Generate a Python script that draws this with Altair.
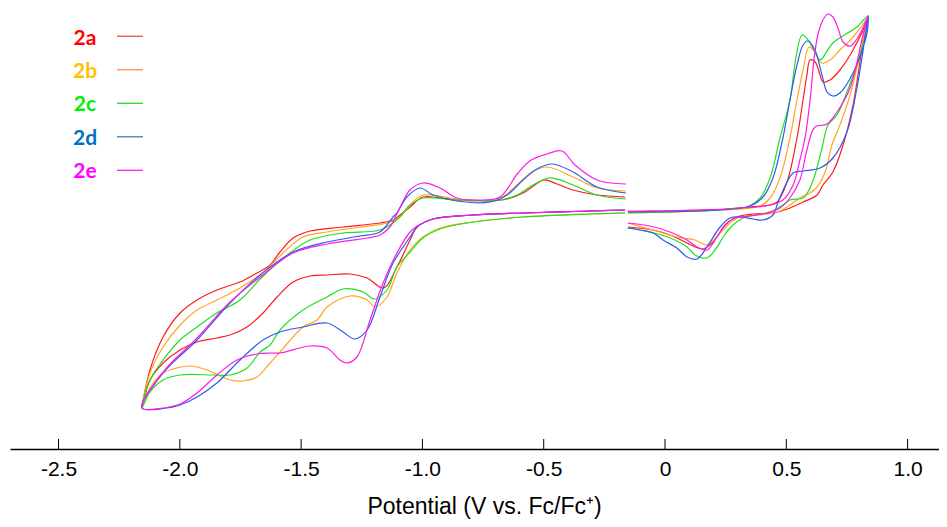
import altair as alt
import pandas as pd

# ---------------- data (potential in V vs Fc/Fc+, current in arbitrary units) -------------
COMPOUNDS = ["2a", "2b", "2c", "2d", "2e"]
CURVE_COLORS = ["#FF1A1A", "#FFA621", "#1EE01E", "#2E5BF0", "#FF1AE6"]
LABEL_COLORS = ["#FF0000", "#FFC000", "#00F000", "#0070C0", "#FF00FF"]
KEY_COLORS = ["#F0504A", "#F5905A", "#22DD22", "#3A7CC4", "#FF22DD"]
TICKS = [-2.5, -2.0, -1.5, -1.0, -0.5, 0.0, 0.5, 1.0]

# 2a
E_2a_red = [-0.165, -0.280, -0.379, -0.445, -0.499, -0.536, -0.585, -0.651, -0.721, -0.804, -0.857, -0.927,
            -0.998, -1.051, -1.092, -1.121, -1.175, -1.327, -1.463, -1.533, -1.587, -1.628, -1.682, -1.752,
            -1.847, -1.929, -1.999, -2.069, -2.123, -2.156,
            -2.123, -2.069, -1.999, -1.929, -1.847, -1.793, -1.723, -1.657, -1.628, -1.599, -1.533, -1.463,
            -1.393, -1.298, -1.228, -1.160, -1.105, -1.051, -1.022, -0.956, -0.791, -0.585, -0.309, -0.165]
I_2a_red = [252, 254, 259, 265, 269, 264, 256, 250, 248, 249, 249, 251,
            252, 242, 234, 229, 226, 222, 218, 211, 197, 184, 176, 167,
            159, 149, 136, 112, 79, 41,
            69, 86, 99, 107, 111, 114, 122, 136, 144, 152, 167, 173,
            174, 175, 171, 161, 182, 209, 222, 230, 234, 236, 238, 239]
E_2a_ox = [-0.153, -0.008, 0.144, 0.268, 0.350, 0.433, 0.462, 0.503, 0.544, 0.569, 0.585, 0.598, 0.619,
           0.639, 0.651, 0.680, 0.721, 0.775, 0.833, 0.837,
           0.816, 0.775, 0.734, 0.692, 0.651, 0.627, 0.569, 0.515, 0.445, 0.363, 0.297, 0.256, 0.214,
           0.185, 0.153, 0.091, 0.021, -0.049, -0.153]
I_2a_ox = [237, 238, 239, 240, 242, 244, 247, 267, 311, 349, 374, 389, 387,
           374, 367, 369, 379, 399, 429, 433,
           407, 344, 304, 277, 264, 254, 247, 241, 236, 235, 232, 226, 212,
           204, 200, 206, 214, 219, 222]

# 2b
E_2b_red = [-0.161, -0.280, -0.379, -0.486, -0.555, -0.610, -0.680, -0.791, -0.886, -0.998, -1.051, -1.092,
            -1.146, -1.253, -1.393, -1.492, -1.561, -1.660, -1.752, -1.847, -1.929, -1.999, -2.069, -2.123,
            -2.156,
            -2.123, -2.069, -2.012, -1.958, -1.888, -1.793, -1.740, -1.682, -1.628, -1.587, -1.492, -1.434,
            -1.393, -1.298, -1.228, -1.195, -1.146, -1.105, -1.051, -0.998, -0.927, -0.791, -0.585, -0.309,
            -0.165]
I_2b_red = [258, 261, 272, 282, 276, 264, 251, 248, 251, 254, 244, 232,
            226, 222, 217, 212, 199, 176, 161, 149, 139, 124, 102, 76,
            41,
            61, 76, 81, 83, 79, 69, 68, 72, 86, 97, 122, 129,
            142, 153, 149, 142, 152, 176, 199, 212, 221, 227, 232, 235,
            236]
E_2b_ox = [-0.153, 0.000, 0.144, 0.309, 0.392, 0.433, 0.474, 0.515, 0.544, 0.569, 0.594, 0.618, 0.647,
           0.680, 0.721, 0.775, 0.833, 0.837,
           0.812, 0.763, 0.721, 0.688, 0.660, 0.627, 0.598, 0.556, 0.515, 0.462, 0.392, 0.309, 0.268,
           0.227, 0.173, 0.124, 0.049, -0.021, -0.080, -0.153]
I_2b_ox = [236, 237, 238, 240, 243, 251, 271, 311, 349, 379, 402, 397, 386,
           389, 399, 412, 431, 433,
           404, 354, 324, 304, 277, 262, 256, 251, 244, 237, 234, 232, 226,
           216, 204, 209, 212, 217, 221, 226]

# 2c
E_2c_red = [-0.161, -0.280, -0.379, -0.478, -0.557, -0.610, -0.680, -0.858, -0.998, -1.051, -1.106, -1.175,
            -1.327, -1.463, -1.546, -1.665, -1.752, -1.847, -1.929, -1.999, -2.069, -2.123, -2.156,
            -2.123, -2.069, -1.999, -1.863, -1.793, -1.723, -1.669, -1.628, -1.587, -1.492, -1.393, -1.327,
            -1.245, -1.196, -1.146, -1.105, -1.051, -0.998, -0.927, -0.791, -0.585, -0.309, -0.165]
I_2c_red = [250, 254, 264, 271, 262, 254, 249, 249, 251, 244, 229, 219,
            216, 209, 196, 171, 149, 136, 122, 109, 89, 69, 41,
            57, 69, 74, 74, 74, 81, 97, 104, 119, 139, 152, 160,
            157, 150, 159, 182, 197, 211, 220, 227, 232, 235, 236]
E_2c_ox = [-0.153, 0.144, 0.289, 0.338, 0.392, 0.433, 0.474, 0.515, 0.540, 0.565, 0.590, 0.618, 0.639,
           0.692, 0.791, 0.837,
           0.804, 0.750, 0.709, 0.672, 0.647, 0.618, 0.589, 0.569, 0.515, 0.486, 0.433, 0.371, 0.321,
           0.268, 0.235, 0.206, 0.173, 0.124, 0.091, 0.021, -0.062, -0.153]
I_2c_ox = [236, 238, 240, 242, 251, 271, 311, 349, 392, 414, 409, 397, 389,
           406, 422, 433,
           394, 357, 334, 324, 301, 274, 257, 251, 249, 244, 237, 234, 231,
           221, 210, 199, 191, 194, 202, 211, 217, 221]

# 2d
E_2d_red = [-0.161, -0.280, -0.379, -0.464, -0.528, -0.585, -0.651, -0.721, -0.858, -0.956, -1.010, -1.064,
            -1.105, -1.121, -1.175, -1.257, -1.393, -1.533, -1.669, -1.793, -1.929, -2.069, -2.156,
            -2.053, -1.999, -1.929, -1.847, -1.752, -1.657, -1.587, -1.492, -1.393, -1.327, -1.278, -1.228,
            -1.175, -1.121, -1.051, -1.022, -0.956, -0.791, -0.585, -0.309, -0.165]
I_2d_red = [256, 262, 277, 285, 280, 269, 254, 247, 248, 254, 261, 252,
            236, 232, 217, 213, 207, 197, 174, 146, 109, 76, 41,
            41, 44, 52, 66, 89, 109, 117, 122, 126, 117, 110, 119,
            152, 186, 212, 222, 230, 234, 236, 238, 239]
E_2d_ox = [-0.153, 0.144, 0.268, 0.350, 0.404, 0.445, 0.486, 0.515, 0.544, 0.569, 0.589, 0.618, 0.647,
           0.668, 0.692, 0.721, 0.775, 0.833, 0.837,
           0.824, 0.791, 0.750, 0.692, 0.639, 0.569, 0.528, 0.503, 0.466, 0.445, 0.404, 0.363, 0.309,
           0.268, 0.227, 0.173, 0.132, 0.091, 0.049, -0.008, -0.049, -0.103, -0.153]
I_2d_ox = [237, 238, 240, 243, 252, 271, 311, 349, 384, 404, 408, 399, 374,
           357, 353, 356, 376, 416, 433,
           411, 361, 317, 291, 281, 278, 276, 267, 247, 234, 229, 230, 232,
           231, 222, 202, 190, 192, 201, 209, 216, 219, 221]

# 2e
E_2e_red = [-0.161, -0.280, -0.371, -0.425, -0.486, -0.552, -0.606, -0.680, -0.749, -0.858, -0.927, -0.998,
            -1.051, -1.092, -1.134, -1.175, -1.228, -1.393, -1.533, -1.669, -1.793, -1.929, -2.069, -2.156,
            -2.069, -1.999, -1.929, -1.847, -1.764, -1.682, -1.628, -1.587, -1.463, -1.393, -1.340, -1.311,
            -1.270, -1.216, -1.162, -1.105, -1.051, -1.022, -0.956, -0.791, -0.585, -0.309, -0.165]
I_2e_red = [265, 269, 284, 298, 295, 289, 276, 252, 249, 251, 261, 266,
            259, 242, 222, 214, 211, 205, 196, 172, 147, 111, 77, 41,
            41, 45, 56, 74, 89, 95, 96, 96, 103, 101, 89, 86,
            92, 129, 166, 196, 217, 223, 230, 234, 236, 238, 239]
E_2e_ox = [-0.153, 0.144, 0.309, 0.433, 0.486, 0.528, 0.556, 0.577, 0.598, 0.614, 0.630, 0.651, 0.672,
           0.692, 0.713, 0.734, 0.763, 0.788, 0.812, 0.837,
           0.816, 0.763, 0.709, 0.668, 0.618, 0.585, 0.556, 0.515, 0.474, 0.420, 0.350, 0.289, 0.247,
           0.214, 0.173, 0.132, 0.091, 0.021, -0.062, -0.153]
I_2e_ox = [238, 239, 241, 244, 249, 264, 289, 311, 349, 389, 414, 429, 435,
           432, 421, 407, 403, 409, 419, 433,
           414, 361, 337, 325, 322, 299, 269, 251, 241, 236, 233, 231, 224,
           212, 199, 202, 209, 217, 223, 226]

SERIES = {
    "2a": [(E_2a_red, I_2a_red), (E_2a_ox, I_2a_ox)],
    "2b": [(E_2b_red, I_2b_red), (E_2b_ox, I_2b_ox)],
    "2c": [(E_2c_red, I_2c_red), (E_2c_ox, I_2c_ox)],
    "2d": [(E_2d_red, I_2d_red), (E_2d_ox, I_2d_ox)],
    "2e": [(E_2e_red, I_2e_red), (E_2e_ox, I_2e_ox)],
}

rows = []
for name, loops in SERIES.items():
    for li, (E, I) in enumerate(loops):
        for k, (e, i) in enumerate(zip(E, I)):
            rows.append({"compound": name, "curve": f"{name}-{li}", "idx": k, "E": e, "I": i})
df = pd.DataFrame(rows)

FONT = "Liberation Sans"
label_expr = "datum.value == 0 ? '0' : (datum.value < 0 ? '-' : '') + format(abs(datum.value), '.1f')"

lines = alt.Chart(df).mark_line(strokeWidth=1.2, interpolate="catmull-rom").encode(
    x=alt.X("E:Q",
            scale=alt.Scale(domain=[-2.70, 1.1294], nice=False, zero=False),
            axis=alt.Axis(values=TICKS, ticks=False, grid=False, domainColor="black", domainWidth=1.5,
                          labelFont=FONT, labelFontSize=21, labelColor="black", labelPadding=9,
                          labelExpr=label_expr, labelFlush=False, labelOverlap=False,
                          title="Potential (V vs. Fc/Fc\u207a)", titleFont=FONT, titleFontSize=23,
                          titleFontWeight="normal", titleColor="black", titleX=474, titleY=64,
                          titleAlign="center", titleBaseline="alphabetic")),
    y=alt.Y("I:Q", scale=alt.Scale(domain=[0, 439], nice=False, zero=False), axis=None),
    color=alt.Color("compound:N", scale=alt.Scale(domain=COMPOUNDS, range=CURVE_COLORS), legend=None),
    detail="curve:N",
    order="idx:Q",
)

ticks = alt.Chart(pd.DataFrame({"t": TICKS})).mark_rule(color="black", strokeWidth=1).encode(
    x="t:Q", y=alt.value(429), y2=alt.value(439)
)

layers = [lines, ticks]
for i, name in enumerate(COMPOUNDS):
    layers.append(
        alt.Chart(pd.DataFrame({"label": [name]})).mark_text(
            font="Lato", fontWeight="bold", fontSize=21, align="center", baseline="middle",
            color=LABEL_COLORS[i]
        ).encode(text="label:N", x=alt.value(75), y=alt.value(28.5 + 33.4 * i))
    )
    layers.append(
        alt.Chart(pd.DataFrame({"label": [name]})).mark_rule(color=KEY_COLORS[i], strokeWidth=1.3).encode(
            x=alt.value(107), x2=alt.value(133), y=alt.value(26.3 + 33.5 * i)
        )
    )

chart = alt.layer(*layers).properties(
    width=929, height=439,
    autosize=alt.AutoSizeParams(type="none"),
    padding={"left": 2, "top": 2, "right": 0, "bottom": 70},
).configure_view(stroke=None)

chart.save("out.html", embed_options={"renderer": "svg", "actions": False})
